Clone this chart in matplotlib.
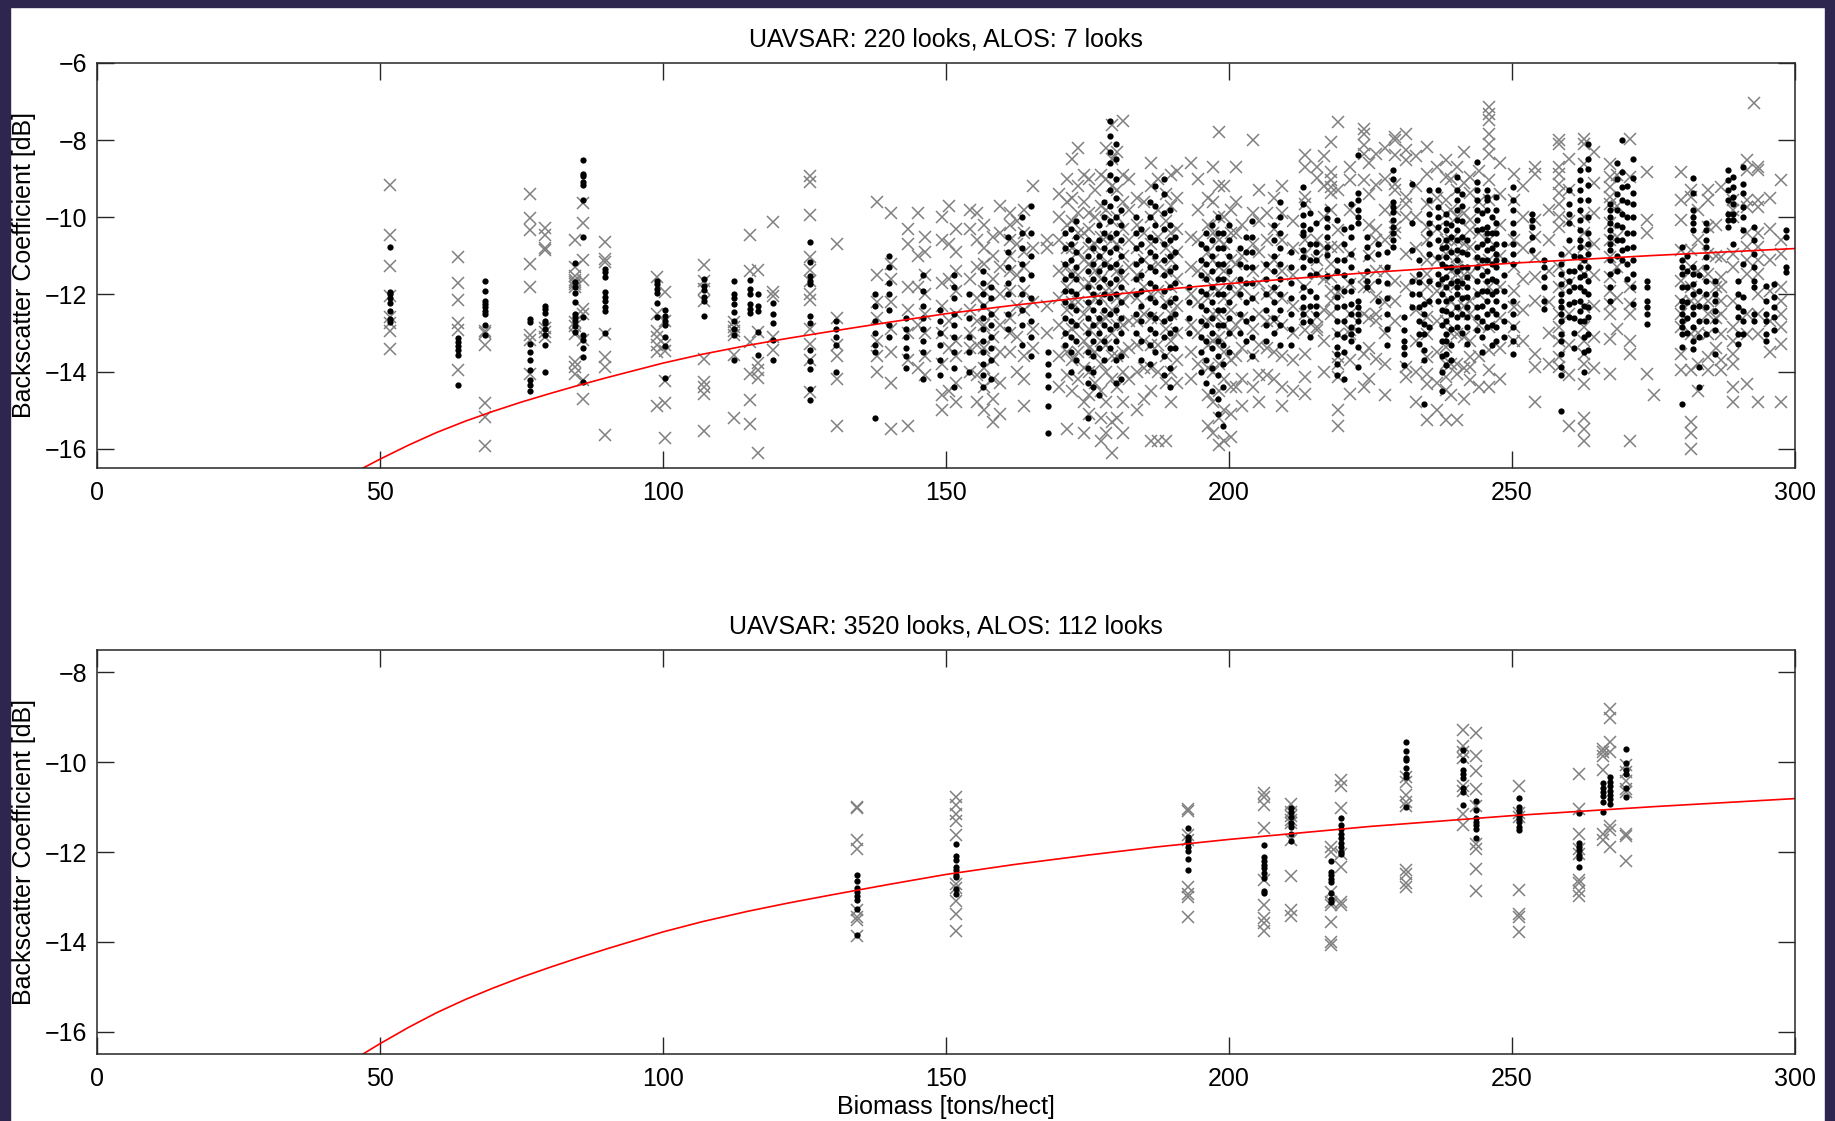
import matplotlib
matplotlib.use("Agg")
import matplotlib.pyplot as plt
from matplotlib.patches import Rectangle

plt.rcParams['font.family'] = ['Liberation Sans', 'DejaVu Sans']
plt.rcParams['font.size'] = 18

# red fit curve (biomass, dB)
fit_x = [47, 50, 55, 60, 65, 70, 75, 80, 85, 90, 95, 100, 107, 115, 122, 130, 140,
         150, 162, 175, 187, 200, 225, 250, 275, 300]
fit_y = [-16.50, -16.27, -15.91, -15.58, -15.29, -15.03, -14.79, -14.57, -14.36,
         -14.16, -13.97, -13.78, -13.55, -13.32, -13.14, -12.95, -12.72, -12.50,
         -12.28, -12.07, -11.89, -11.72, -11.43, -11.19, -10.99, -10.81]

# top panel: UAVSAR 220 looks (dots), one list of dB values per stand
top_dot_x = [51.8, 63.7, 68.6, 76.5, 79.2, 84.5, 85.8, 89.8, 98.9, 100.4,
             107.2, 112.5, 115.3, 116.7, 119.5, 126.0,
             130.5, 137.5, 140.0, 143.0, 146.0, 149.0, 151.5, 154.0, 156.5, 158.0,
             161.0, 163.5, 165.0, 168.0, 171.0, 173.0, 175.0, 177.0, 179.0, 181.0,
             183.5, 186.0, 188.5, 190.5, 193.0, 196.0, 198.0, 200.0, 202.0, 204.0,
             206.5, 209.0, 211.0,
             213.1, 215.4, 217.3, 219.0, 221.5, 222.8, 224.3, 226.3, 229.0, 230.9,
             232.4, 233.6, 234.5, 235.4, 236.9, 238.4, 240.2, 242.1, 243.9, 245.5,
             247.2, 250.2, 253.5, 255.6, 258.6, 260.1, 262.0, 263.5, 267.4, 269.5,
             271.3, 273.9, 280.1, 281.9, 283.1, 284.3, 285.8, 288.2, 289.1, 290.0,
             290.8, 292.8, 294.8, 296.3, 298.4,
             172.0, 176.0, 178.0, 180.0, 184.5, 187.0, 189.5, 195.0, 197.0, 199.0,
             203.0, 208.0, 214.3, 220.3, 228.0, 237.6, 239.3, 241.2, 244.7, 246.4,
             248.5, 261.0, 262.8, 268.5, 270.4, 281.0, 283.0]
top_dot_y = [
    [-10.77, -11.94, -12.00, -12.09, -12.23, -12.43, -12.63, -12.72],
    [-13.13, -13.24, -13.35, -13.45, -13.58, -14.34],
    [-11.64, -11.92, -12.18, -12.26, -12.33, -12.43, -12.50, -12.78, -13.04],
    [-12.63, -12.72, -13.28, -13.50, -13.71, -13.97, -14.23, -14.36, -14.51],
    [-12.31, -12.37, -12.48, -12.68, -12.74, -12.89, -13.06, -13.30, -14.02],
    [-11.19, -11.68, -11.81, -11.97, -12.20, -12.50, -12.59, -12.68, -12.81, -12.98],
    [-8.52, -8.87, -8.94, -9.08, -9.17, -9.56, -10.51, -12.59, -13.06, -13.19,
     -13.39, -13.63, -14.28],
    [-11.33, -11.42, -11.55, -11.94, -12.07, -12.16, -12.33, -12.42, -13.00],
    [-11.64, -11.72, -11.85, -11.97, -12.23, -12.59],
    [-12.40, -12.55, -12.68, -12.78, -13.11, -13.35, -14.16],
    [-11.59, -11.79, -11.88, -12.07, -12.16, -12.57],
    [-11.64, -12.00, -12.09, -12.24, -12.46, -12.68, -12.89, -13.04, -13.71],
    [-11.62, -11.85, -12.00, -12.24, -12.37, -12.48],
    [-11.98, -12.29, -12.42, -12.98, -13.58],
    [-12.23, -12.50, -12.74, -13.18, -13.71],
    [-10.64, -11.16, -11.53, -11.64, -11.72, -12.57, -12.74, -13.44, -13.73,
     -13.93, -14.45, -14.74],
    [-12.7, -12.9, -13.1, -13.3, -14.0],
    [-12.0, -12.3, -12.7, -13.0, -13.3, -13.5, -15.2],
    [-11.0, -11.3, -11.7, -12.0, -12.4, -12.8, -13.1],
    [-12.6, -12.9, -13.1, -13.4, -13.6, -13.9],
    [-11.5, -11.9, -12.3, -12.6, -12.9, -13.2, -13.5, -14.2],
    [-12.4, -12.7, -13.0, -13.3, -13.7, -14.1],
    [-11.5, -11.8, -12.1, -12.5, -12.8, -13.1, -13.5, -13.9, -14.4],
    [-12.0, -12.6, -13.1, -13.5, -14.0],
    [-11.4, -11.7, -12.0, -12.3, -12.6, -12.9, -13.2, -13.5, -13.8, -14.1, -14.4],
    [-11.8, -12.1, -12.5, -12.8, -13.1, -13.4, -13.7, -14.2],
    [-10.5, -10.9, -11.3, -11.7, -12.0, -12.5, -12.9],
    [-10.0, -10.4, -10.8, -11.2, -11.6, -12.0, -12.4, -12.8, -13.3],
    [-9.7, -10.4, -11.0, -11.5, -12.1, -12.7, -13.1, -13.6],
    [-13.5, -13.8, -14.1, -14.4, -14.9, -15.6],
    [-10.4, -10.8, -11.2, -11.6, -11.9, -12.2, -12.6, -13.0, -13.3],
    [-10.1, -10.5, -10.9, -11.3, -11.6, -12.0, -12.4, -12.8, -13.2, -13.7],
    [-10.6, -11.0, -11.4, -11.8, -12.2, -12.6, -13.0, -13.5, -13.9, -14.3, -15.2],
    [-10.2, -10.6, -11.0, -11.4, -11.8, -12.2, -12.6, -13.0, -13.4, -14.6],
    [-7.5, -7.9, -8.3, -8.6, -8.9, -9.3, -9.7, -10.1, -10.5, -10.9, -11.3, -11.7,
     -12.1, -12.5, -12.9, -13.4],
    [-9.8, -10.2, -10.6, -11.0, -11.4, -11.8, -12.2, -12.6, -13.0, -13.6, -14.2],
    [-10.0, -10.4, -10.8, -11.2, -11.6, -12.0, -12.5, -13.0],
    [-9.6, -10.0, -10.5, -10.9, -11.3, -11.7, -12.1, -12.5, -12.9, -13.3, -13.8],
    [-9.0, -9.4, -9.9, -10.3, -10.7, -11.1, -11.5, -11.9, -12.3, -12.7, -13.1,
     -13.6, -14.1],
    [-10.5, -10.9, -11.3, -11.7, -12.1, -12.5, -12.9, -13.4],
    [-11.8, -12.2, -12.6, -13.0],
    [-10.4, -10.8, -11.2, -11.6, -12.0, -12.4, -12.8, -13.2, -13.7, -14.3],
    [-10.0, -10.4, -10.8, -11.2, -11.6, -12.0, -12.4, -12.8, -13.2, -13.6, -14.1,
     -14.7, -15.1],
    [-10.2, -10.6, -11.0, -11.4, -11.8, -12.2, -12.6, -13.0, -13.5],
    [-10.8, -11.2, -11.6, -12.0, -12.5, -13.0],
    [-10.1, -10.5, -10.9, -11.3, -11.7, -12.1, -12.6, -13.1, -13.6],
    [-11.2, -11.6, -12.0, -12.4, -12.8, -13.2],
    [-9.6, -10.0, -10.4, -10.8, -11.2, -11.6, -12.0, -12.4, -12.8, -13.3],
    [-10.9, -11.3, -11.7, -12.1, -12.5, -12.9, -13.3],
    [-9.21, -9.65, -9.95, -10.21, -10.38, -10.47, -10.86, -11.03, -11.29, -11.81,
     -12.07, -12.33, -12.50, -12.72],
    [-10.16, -10.68, -10.90, -11.12, -11.46, -12.07, -12.29, -12.50],
    [-9.78, -10.03, -10.25, -10.51, -10.77, -10.99, -11.51],
    [-10.08, -11.12, -11.38, -11.81, -12.07, -12.33, -12.68, -13.02, -13.37,
     -13.54, -13.80, -14.10],
    [-9.65, -10.25, -10.51, -10.94, -11.29, -11.64, -11.90, -12.24, -12.50,
     -12.85, -13.02, -13.20],
    [-8.39, -9.38, -9.56, -9.82, -9.99, -10.16, -12.16, -12.33, -12.50, -12.68,
     -12.93, -13.37, -13.89],
    [-10.51, -10.77, -11.03, -11.38, -11.64, -11.81],
    [-10.68, -10.94, -11.64, -12.16],
    [-8.78, -9.00, -9.60, -9.73, -9.86, -10.08, -10.25, -10.42, -10.60, -10.77],
    [-12.59, -12.93, -13.20, -13.37, -13.54, -13.84],
    [-9.13, -10.16, -10.86, -11.64, -11.98, -12.33],
    [-11.12, -11.46, -11.68, -11.98, -12.33, -12.68, -13.02, -13.28],
    [-12.24, -12.50, -12.76, -13.02, -13.45, -13.71, -14.83],
    [-9.30, -9.56, -9.91, -10.16, -10.42, -10.68, -10.94, -11.64, -12.16, -12.85],
    [-9.30, -9.73, -9.99, -10.25, -10.60, -11.03, -11.46, -11.72, -12.16],
    [-9.91, -10.16, -10.34, -10.60, -10.77, -11.03, -11.29, -11.55, -11.81,
     -12.16, -12.42, -12.68, -13.02, -13.20, -13.54, -13.84],
    [-8.95, -9.30, -9.56, -9.82, -10.08, -10.34, -10.60, -10.86, -11.12, -11.38,
     -11.64, -11.81, -11.98, -12.33, -12.59, -12.85],
    [-10.60, -10.94, -11.29, -11.55, -11.81, -12.07, -12.33, -12.59, -12.85, -13.28],
    [-8.56, -9.08, -9.30, -9.56, -9.82, -10.08, -10.34, -10.77, -11.03, -11.29,
     -11.64, -11.98, -12.33, -12.59, -12.93],
    [-9.30, -9.47, -9.56, -9.82, -10.25, -10.42, -10.60, -10.86, -11.12, -11.38,
     -11.64, -11.90, -12.16, -12.50, -12.85],
    [-9.47, -9.82, -10.16, -10.42, -10.68, -10.94, -11.12, -11.29, -11.64, -11.90,
     -12.16, -12.50, -12.85, -13.20],
    [-9.21, -9.56, -9.82, -10.16, -10.42, -10.68, -10.94, -11.20, -12.16, -12.50,
     -12.85, -13.20, -13.54],
    [-9.91, -10.08, -10.25, -10.51, -10.86],
    [-11.12, -11.29, -11.55, -11.81, -12.16, -12.37],
    [-10.94, -11.20, -11.46, -11.72, -11.98, -12.16, -12.33, -12.50, -12.68,
     -13.02, -13.20, -13.54, -13.89, -14.10, -15.03],
    [-9.30, -9.65, -9.91, -10.16, -10.60, -11.38, -11.64, -11.90, -12.24, -12.59],
    [-8.78, -9.04, -9.30, -9.56, -9.82, -10.08, -10.34, -10.60, -10.77, -11.03,
     -11.29, -11.55, -11.81, -12.16, -12.42, -12.68],
    [-8.09, -8.48, -8.74, -9.17, -9.56, -9.99, -10.42, -10.68, -10.94, -11.29,
     -11.64, -11.98, -12.33, -12.59, -13.02, -13.45],
    [-9.65, -9.82, -9.99, -10.16, -10.34, -10.51, -10.68, -10.86, -11.12, -11.46,
     -11.81, -12.16],
    [-8.00, -8.82, -9.21, -9.56, -9.91, -10.25, -10.60, -10.86, -11.12],
    [-8.48, -8.99, -9.38, -9.65, -9.99, -10.42, -10.77, -11.12, -11.46, -11.81,
     -12.24],
    [-11.64, -11.81, -12.16, -12.33, -12.50, -12.76],
    [-10.77, -11.12, -11.29, -11.46, -11.81, -12.16, -12.33, -12.50, -12.68,
     -12.85, -13.02, -13.37, -14.85],
    [-8.99, -9.38, -9.82, -9.99, -10.16, -10.34, -11.29, -11.46, -11.72, -11.98,
     -12.33, -12.50, -12.85, -13.20, -13.41],
    [-13.89, -14.41],
    [-10.16, -10.34, -10.60, -10.77, -11.03, -11.29, -11.64, -11.98, -12.33,
     -12.68, -13.02],
    [-11.64, -11.98, -12.16, -12.42, -12.68, -12.93, -13.54],
    [-8.78, -9.04, -9.30, -9.56, -9.91, -10.08, -10.25],
    [-8.95, -9.21, -9.47, -9.65, -9.91, -10.08, -10.68],
    [-11.64, -11.98, -12.33, -12.59, -13.02, -13.28],
    [-8.69, -9.13, -9.38, -9.73, -9.99, -10.34, -11.20, -12.07, -12.42, -12.68,
     -13.02],
    [-10.25, -10.60, -10.94, -11.29, -11.64, -11.81, -12.50, -12.68],
    [-11.77, -12.16, -12.50, -12.68, -13.02, -13.20],
    [-11.72, -12.07, -12.33, -12.59, -12.93],
    [-10.34, -10.51, -11.29, -11.42],
    # denser in-between columns
    [-10.3, -10.7, -11.1, -11.5, -11.9, -12.3, -12.7, -13.1, -13.5, -14.0],
    [-10.8, -11.2, -11.6, -12.0, -12.4, -12.8, -13.2, -13.6, -14.0, -14.4],
    [-9.6, -10.0, -10.4, -10.8, -11.2, -11.6, -12.0, -12.4, -12.8, -13.2, -13.7],
    [-8.1, -8.5, -9.0, -9.5, -10.0, -10.4, -10.8, -11.2, -11.6, -12.0, -12.4,
     -12.8, -13.2, -13.7, -14.3],
    [-10.3, -10.7, -11.1, -11.5, -11.9, -12.3, -12.7, -13.2, -13.7],
    [-9.2, -9.7, -10.2, -10.6, -11.0, -11.4, -11.8, -12.2, -12.6, -13.0, -13.5],
    [-9.8, -10.2, -10.6, -11.0, -11.4, -11.8, -12.2, -12.6, -13.0, -13.4, -13.9,
     -14.4],
    [-10.7, -11.1, -11.5, -11.9, -12.3, -12.7, -13.1, -13.5, -14.0],
    [-10.2, -10.6, -11.0, -11.4, -11.8, -12.2, -12.6, -13.0, -13.4, -13.9, -14.5],
    [-10.4, -10.8, -11.2, -11.6, -12.0, -12.4, -12.8, -13.3, -13.8, -14.4, -15.4],
    [-10.5, -10.9, -11.3, -11.7, -12.2, -12.7, -13.2],
    [-10.2, -10.6, -11.0, -11.4, -11.8, -12.2, -12.6, -13.0],
    [-9.9, -10.3, -10.7, -11.1, -11.5, -11.9, -12.3, -12.7, -13.1],
    [-10.3, -10.7, -11.1, -11.5, -11.9, -12.3, -12.7, -13.1, -13.5, -14.2],
    [-10.9, -11.3, -11.7, -12.1, -12.5, -12.9, -13.3],
    [-10.8, -11.2, -11.6, -12.0, -12.4, -12.8, -13.2, -13.6, -14.0, -14.5],
    [-10.2, -10.5, -10.9, -11.3, -11.7, -12.1, -12.5, -12.9, -13.3, -13.7],
    [-9.4, -9.7, -10.1, -10.5, -10.9, -11.3, -11.7, -12.1, -12.5, -13.0],
    [-9.9, -10.3, -10.7, -11.1, -11.5, -11.9, -12.3, -12.7, -13.1, -13.5],
    [-10.0, -10.4, -10.8, -11.2, -11.6, -12.0, -12.4, -12.8, -13.3],
    [-10.7, -11.1, -11.5, -11.9, -12.3, -12.7, -13.1],
    [-11.0, -11.4, -11.8, -12.2, -12.6, -13.0, -13.4],
    [-11.1, -11.5, -11.9, -12.3, -12.7, -13.1, -13.5, -14.0],
    [-8.6, -9.0, -9.4, -9.8, -10.2, -10.6, -11.0, -11.4],
    [-9.2, -9.6, -10.0, -10.4, -10.8, -11.2, -11.6],
    [-11.0, -11.4, -11.8, -12.2, -12.6, -13.0],
    [-11.5, -11.9, -12.3, -12.7, -13.1],
]

# top panel: ALOS 7 looks (crosses)
top_cross_x = [51.8, 63.7, 68.6, 76.5, 79.2, 84.5, 85.8, 89.8, 98.9, 100.4,
               107.2, 112.5, 115.3, 116.7, 119.5, 126.0,
               130.8, 137.8, 140.3, 143.3, 146.3, 149.3, 151.8, 154.3, 156.8, 158.3,
               161.3, 163.8, 165.3, 167.8, 171.3, 173.3, 175.3, 177.3, 179.3, 181.3,
               183.8, 186.3, 188.8, 190.8, 193.3, 196.3, 198.3, 200.3, 202.3, 204.3,
               206.8, 209.3, 211.3,
               213.5, 215.6, 218.0, 219.3, 221.4, 223.8, 226.0, 229.3, 231.3, 235.0,
               238.3, 240.3, 242.6, 246.0, 250.4, 254.0, 258.3, 262.7, 267.3, 270.9,
               273.9, 275.0, 279.9, 281.6, 284.6, 287.0, 289.0, 291.5, 292.8, 293.5,
               297.5,
               145.0, 150.5, 155.5, 159.5, 162.5, 170.0, 172.2, 174.3, 176.3, 178.3,
               180.3, 182.3, 185.0, 187.5, 189.8, 194.5, 197.2, 199.2, 201.3, 205.3,
               208.0, 216.8, 224.8, 227.5, 233.0, 236.8, 239.3, 241.5, 244.2, 247.8,
               252.0, 256.5, 260.0, 264.5, 268.5, 282.8, 286.0, 295.5]
top_cross_y = [
    [-9.17, -10.47, -11.27, -12.03, -12.59, -12.75, -12.95, -13.41],
    [-11.03, -11.71, -12.14, -12.74, -12.92, -13.96],
    [-12.94, -13.00, -13.30, -14.82, -15.17, -15.92],
    [-9.40, -10.01, -10.34, -11.20, -11.81, -13.06, -13.19, -14.06],
    [-10.29, -10.47, -10.79, -10.84, -12.87, -12.98, -13.11],
    [-10.60, -11.29, -11.51, -11.62, -11.68, -11.74, -11.81, -12.72, -12.81,
     -13.02, -13.76, -13.89, -14.06],
    [-9.64, -10.15, -11.10, -11.62, -12.37, -12.50, -13.19, -14.23, -14.71],
    [-10.64, -11.07, -11.16, -13.02, -13.63, -13.89, -15.64],
    [-11.55, -12.50, -12.94, -13.11, -13.30, -13.50, -14.88],
    [-11.94, -12.68, -13.32, -13.47, -14.25, -14.82, -15.72],
    [-11.25, -11.64, -11.85, -12.17, -13.67, -14.28, -14.39, -14.58, -15.55],
    [-12.72, -12.85, -12.95, -13.06, -13.58, -15.20],
    [-10.47, -11.39, -13.24, -14.06, -14.74, -15.36],
    [-11.36, -12.98, -13.78, -13.97, -14.16, -16.12],
    [-10.12, -11.94, -12.03, -13.11, -13.45],
    [-8.94, -9.08, -9.95, -11.03, -11.36, -11.64, -12.00, -12.14, -12.89, -13.28,
     -13.71, -14.54],
    [-10.7, -12.6, -13.3, -13.6, -14.2, -15.4],
    [-9.6, -11.5, -12.2, -12.6, -13.2, -13.6, -14.0],
    [-9.9, -11.2, -11.6, -12.2, -12.9, -13.5, -14.3, -15.5],
    [-10.3, -10.7, -11.8, -12.4, -13.0, -13.7, -15.4],
    [-10.5, -10.9, -11.5, -12.0, -12.5, -13.0, -13.6, -14.1],
    [-10.0, -10.6, -11.7, -12.3, -13.0, -13.8, -14.6, -15.0],
    [-10.3, -10.9, -11.4, -11.9, -12.5, -13.2, -13.6, -14.3, -14.8],
    [-9.8, -10.3, -11.6, -12.4, -13.0, -13.4, -14.0],
    [-10.2, -10.8, -11.2, -11.9, -12.3, -12.8, -13.4, -13.9, -14.4, -15.0],
    [-10.5, -11.0, -11.6, -12.5, -13.1, -13.7, -14.2, -14.7, -15.3],
    [-9.9, -10.2, -10.6, -11.0, -11.4, -11.9, -12.6, -13.0, -13.5],
    [-9.8, -10.4, -10.9, -11.3, -11.9, -12.4, -13.6, -14.2, -14.9],
    [-9.2, -10.8, -12.2, -12.9, -13.4],
    [-10.6, -10.8, -12.3, -13.0],
    [-9.0, -9.6, -10.2, -10.8, -11.3, -11.8, -12.4, -13.0, -13.5, -14.1, -15.5],
    [-8.2, -9.2, -9.9, -10.4, -10.9, -11.5, -12.2, -12.8, -13.5, -14.2],
    [-9.0, -9.9, -10.3, -10.8, -11.2, -11.7, -12.3, -12.9, -13.4, -14.0, -14.6,
     -15.1],
    [-8.9, -9.7, -10.5, -11.0, -11.6, -12.1, -12.7, -13.2, -13.8, -14.5, -15.2,
     -15.8],
    [-7.6, -8.5, -9.2, -10.1, -10.6, -11.3, -11.9, -12.4, -13.0, -13.6, -14.2,
     -15.3, -16.1],
    [-7.5, -8.9, -9.6, -10.3, -11.0, -11.6, -12.2, -12.8, -13.5, -14.0, -14.8,
     -15.6],
    [-9.5, -10.2, -10.8, -11.5, -12.1, -12.7, -13.3, -14.0, -15.0],
    [-8.6, -9.2, -10.0, -10.7, -11.3, -12.0, -12.6, -13.3, -13.9, -14.5, -15.8],
    [-9.4, -10.1, -10.8, -11.4, -12.2, -12.9, -13.6, -14.3, -15.8],
    [-8.8, -9.5, -10.3, -10.9, -11.6, -12.3, -13.0, -13.7, -14.3],
    [-8.6, -10.5, -11.3, -12.0, -12.8, -13.5, -14.2],
    [-9.5, -10.2, -10.9, -11.5, -12.1, -12.7, -13.3, -13.9, -14.6, -15.4],
    [-7.8, -9.2, -10.0, -10.6, -11.3, -11.9, -12.5, -13.1, -13.8, -14.5, -15.2,
     -15.9],
    [-9.8, -10.4, -11.1, -11.7, -12.4, -13.0, -13.7, -14.4, -15.1, -15.7],
    [-10.2, -11.0, -11.8, -12.6, -13.4, -14.2, -14.9],
    [-8.0, -9.9, -10.7, -11.4, -12.1, -12.9, -13.6, -14.4],
    [-9.9, -10.6, -11.3, -12.0, -12.7, -13.4, -14.1],
    [-9.2, -9.9, -10.6, -11.4, -12.1, -12.8, -13.6, -14.4, -14.9],
    [-10.1, -10.8, -11.5, -12.3, -13.0, -13.7, -14.5],
    [-8.39, -8.69, -9.47, -9.65, -10.60, -10.94, -11.81, -12.50, -12.93, -13.54,
     -14.15, -14.58],
    [-8.69, -8.99, -10.60, -11.12, -11.46, -12.59, -12.85, -12.93],
    [-8.04, -8.82, -9.04, -9.21, -9.38, -9.82, -10.77, -11.20, -11.55, -11.90,
     -12.16, -12.50],
    [-7.52, -9.30, -10.34, -10.77, -11.94, -13.02, -13.63, -13.80, -14.15, -15.0,
     -15.4],
    [-8.69, -9.04, -9.82, -10.94, -11.72, -12.50, -12.93, -13.02, -13.71, -14.58],
    [-7.70, -7.83, -8.13, -8.35, -9.04, -11.55, -11.81, -12.50, -13.54, -14.41],
    [-8.35, -9.17, -10.34, -10.60, -11.38, -12.07, -12.50, -12.68, -13.67],
    [-7.91, -8.00, -8.39, -9.13, -9.30, -9.82, -10.25, -10.42, -11.64, -12.16,
     -12.68],
    [-7.83, -8.26, -8.52, -9.47, -9.65, -9.99, -10.94, -11.81, -13.89, -14.15],
    [-8.17, -8.87, -9.65, -10.25, -10.60, -11.12, -11.46, -11.81, -12.16, -12.59,
     -13.02, -13.63, -14.06, -14.32, -15.25],
    [-8.52, -8.95, -9.56, -9.91, -10.60, -10.94, -11.81, -12.68, -13.37, -13.80,
     -14.15, -14.49, -15.25],
    [-8.69, -9.30, -9.99, -10.60, -11.03, -11.29, -11.46, -11.72, -12.33, -13.02,
     -13.80, -14.06, -15.25],
    [-8.95, -9.38, -10.08, -10.34, -10.77, -11.46, -12.16, -12.50, -13.20, -13.63,
     -13.89, -14.23],
    [-7.13, -7.31, -7.48, -7.83, -8.09, -8.35, -9.04, -9.56, -10.60, -11.12,
     -11.81, -12.85, -13.45, -13.97, -14.41],
    [-8.87, -9.56, -10.60, -11.29, -11.90, -12.33, -12.85, -13.20],
    [-8.69, -8.87, -10.08, -10.51, -11.03, -11.55, -12.16, -13.54, -13.89, -14.80],
    [-8.00, -8.09, -8.69, -8.87, -9.13, -9.38, -9.65, -9.99, -10.25, -11.29,
     -11.81, -12.50, -12.85, -13.20, -13.63, -13.89],
    [-7.96, -8.09, -8.61, -9.99, -10.42, -10.77, -11.12, -11.46, -12.33, -12.85,
     -13.20, -13.54, -13.80, -14.32, -15.2, -15.5, -15.8],
    [-8.61, -8.95, -9.21, -9.47, -9.65, -10.16, -10.60, -11.03, -11.55, -11.90,
     -12.24, -12.50, -13.15, -14.06],
    [-7.96, -8.95, -11.81, -12.24, -12.50, -13.20, -13.54, -15.8],
    [-8.82, -10.08, -10.42, -14.06],
    [-14.6],
    [-8.82, -9.56, -10.08, -10.86, -11.64, -12.16, -12.50, -12.85, -13.54, -13.97],
    [-9.30, -9.47, -10.86, -11.29, -11.81, -12.16, -13.02, -13.97, -15.3, -15.6,
     -16.0],
    [-9.30, -9.56, -10.25, -10.94, -11.46, -12.16, -12.50, -13.02, -13.63, -13.97],
    [-9.21, -11.03, -11.55, -11.81, -12.16, -12.50, -13.02, -13.71, -13.97],
    [-9.56, -9.82, -9.99, -10.94, -11.29, -12.16, -12.85, -13.20, -13.54, -13.80,
     -14.41, -14.8],
    [-8.52, -8.78, -9.56, -9.73, -10.42, -10.77, -11.12, -11.46, -12.50, -13.02,
     -14.32],
    [-7.03],
    [-8.69, -8.78, -9.56, -9.73, -10.42, -10.77, -11.12, -11.46, -11.98, -12.50,
     -13.02, -14.8],
    [-9.04, -10.60, -10.94, -11.81, -12.16, -12.50, -12.85, -13.28, -14.8],
    # crosses spread between the stands
    [-9.9, -11.0, -11.8, -12.8, -13.9],
    [-9.7, -10.7, -11.6, -12.7, -13.4, -14.5],
    [-9.9, -10.6, -11.3, -12.1, -12.7, -13.3, -14.1, -14.8],
    [-9.7, -10.4, -11.3, -12.0, -12.8, -13.5, -14.3, -15.1],
    [-10.1, -10.7, -11.5, -12.3, -13.1, -14.0],
    [-9.4, -10.0, -10.6, -11.4, -12.1, -12.8, -13.6, -14.4],
    [-8.5, -9.5, -10.1, -10.8, -11.5, -12.2, -12.9, -13.7, -14.5],
    [-8.9, -9.6, -10.4, -11.1, -11.8, -12.5, -13.2, -13.9, -14.8, -15.6],
    [-9.3, -10.0, -10.7, -11.4, -12.1, -12.8, -13.5, -14.3],
    [-8.2, -9.0, -9.8, -10.5, -11.2, -11.9, -12.6, -13.3, -14.0, -14.8, -15.6],
    [-8.3, -9.3, -10.0, -10.7, -11.4, -12.1, -12.8, -13.6, -14.4, -15.2],
    [-9.0, -9.8, -10.6, -11.3, -12.0, -12.7, -13.4, -14.2],
    [-9.6, -10.4, -11.1, -11.8, -12.5, -13.2, -13.9, -14.7],
    [-9.0, -9.8, -10.5, -11.2, -11.9, -12.6, -13.3, -14.0, -15.8],
    [-8.9, -9.7, -10.4, -11.1, -11.8, -12.5, -13.2, -14.0, -14.8],
    [-9.0, -9.8, -10.6, -11.4, -12.2, -13.0, -13.8],
    [-8.7, -9.6, -10.4, -11.1, -11.8, -12.5, -13.2, -14.0, -14.8, -15.6],
    [-9.2, -10.0, -10.7, -11.4, -12.1, -12.8, -13.5, -14.2, -15.0, -15.8],
    [-8.7, -9.6, -10.4, -11.2, -12.0, -12.8, -13.6, -14.4],
    [-9.3, -10.1, -10.9, -11.7, -12.5, -13.3, -14.1, -14.8],
    [-9.5, -10.3, -11.1, -11.9, -12.7, -13.5, -14.2],
    [-8.4, -9.2, -10.0, -10.8, -11.6, -12.4, -13.2, -14.0],
    [-8.6, -9.4, -10.2, -11.0, -11.8, -12.6, -13.4, -14.2],
    [-8.2, -9.0, -9.8, -10.6, -11.4, -12.2, -13.0, -13.8, -14.6],
    [-8.4, -9.2, -10.0, -10.8, -11.6, -12.4, -13.2, -14.0, -14.8],
    [-8.7, -9.5, -10.3, -11.1, -11.9, -12.7, -13.5, -14.3, -15.0],
    [-9.0, -9.8, -10.6, -11.4, -12.2, -13.0, -13.8, -14.6],
    [-8.3, -9.1, -9.9, -10.7, -11.5, -12.3, -13.1, -13.9, -14.7],
    [-8.8, -9.6, -10.4, -11.2, -12.0, -12.8, -13.6, -14.4],
    [-8.6, -9.4, -10.2, -11.0, -11.8, -12.6, -13.4, -14.2],
    [-9.2, -10.0, -10.8, -11.6, -12.4, -13.2],
    [-9.8, -10.6, -11.4, -12.2, -13.0, -13.8],
    [-8.5, -9.3, -10.1, -10.9, -11.7, -12.5, -13.3, -14.1, -15.4],
    [-8.3, -9.1, -9.9, -10.7, -11.5, -12.3, -13.1, -13.9],
    [-8.9, -9.7, -10.5, -11.3, -12.1, -12.9],
    [-9.8, -10.6, -11.4, -12.2, -13.0, -13.8, -14.5],
    [-10.2, -11.0, -11.8, -12.6, -13.4],
    [-9.5, -10.3, -11.1, -11.9, -12.7, -13.5],
]

# bottom panel: UAVSAR 3520 looks (dots), ALOS 112 looks (crosses)
bot_x = [134.2, 151.7, 192.7, 206.1, 210.9, 218.1, 219.7, 231.3, 241.4, 243.6,
         251.3, 261.8, 266.0, 267.4, 270.1]
bot_dot_y = [
    [-12.51, -12.65, -12.80, -12.90, -12.97, -13.06, -13.28, -13.84],
    [-11.82, -12.10, -12.17, -12.34, -12.40, -12.51, -12.56, -12.82, -12.93],
    [-11.47, -11.67, -11.74, -11.80, -11.89, -11.98, -12.15, -12.39],
    [-11.85, -12.12, -12.19, -12.30, -12.36, -12.47, -12.59, -12.86, -12.91],
    [-11.02, -11.12, -11.21, -11.36, -11.45, -11.61, -11.76],
    [-12.19, -12.45, -12.52, -12.60, -12.67, -12.92, -13.04, -13.12],
    [-11.24, -11.39, -11.49, -11.60, -11.69, -11.79, -11.88, -11.99, -12.04],
    [-9.54, -9.75, -9.90, -9.96, -10.12, -10.26, -10.32, -11.00],
    [-9.72, -9.96, -10.18, -10.26, -10.35, -10.57, -10.67, -10.96],
    [-10.86, -11.07, -11.24, -11.33, -11.39, -11.49, -11.69],
    [-10.79, -11.00, -11.09, -11.19, -11.26, -11.33, -11.45, -11.52],
    [-11.13, -11.80, -11.88, -11.95, -12.06, -12.13, -12.34],
    [-10.47, -10.57, -10.67, -10.76, -10.89, -11.12],
    [-10.32, -10.44, -10.54, -10.64, -10.74, -10.83, -10.94],
    [-9.71, -10.01, -10.18, -10.26, -10.57, -10.78],
]
bot_cross_y = [
    [-11.00, -11.02, -11.74, -11.93, -13.30, -13.45, -13.51, -13.88],
    [-10.78, -10.95, -11.15, -11.32, -11.63, -12.71, -12.80, -13.09, -13.38, -13.76],
    [-11.05, -11.09, -11.63, -11.74, -12.78, -12.93, -13.00, -13.45],
    [-10.68, -10.78, -10.96, -11.47, -12.63, -13.17, -13.46, -13.58, -13.75],
    [-10.93, -11.12, -11.19, -11.29, -11.36, -11.73, -12.53, -13.29, -13.42],
    [-11.89, -12.00, -12.89, -13.12, -13.17, -13.56, -14.01, -14.08],
    [-10.39, -10.54, -11.02, -12.04, -12.34, -13.12, -13.17],
    [-10.33, -10.44, -10.74, -10.89, -10.98, -12.41, -12.48, -12.70, -12.78],
    [-9.29, -9.63, -9.77, -9.90, -10.54, -10.63, -11.15, -11.39],
    [-9.35, -9.87, -10.20, -10.60, -10.98, -11.83, -11.93, -12.37, -12.87],
    [-10.54, -11.13, -11.22, -12.84, -13.38, -13.44, -13.78],
    [-10.26, -11.04, -11.60, -11.93, -12.04, -12.63, -12.69, -12.86, -12.99],
    [-9.70, -9.77, -9.87, -10.18, -11.61, -11.73],
    [-8.81, -9.02, -9.55, -9.77, -11.41, -11.51, -11.88],
    [-10.07, -10.22, -10.41, -10.59, -10.67, -11.60, -11.65, -12.19],
]

W, H = 1835, 1121
fig = plt.figure(figsize=(W / 100, H / 100), dpi=100, facecolor='white')

# dark window frame around the figure
frame = '#2f2650'
fig.patches.append(Rectangle((0, 1 - 7 / H), 1, 7 / H, transform=fig.transFigure,
                             color=frame, zorder=-1))
fig.patches.append(Rectangle((0, 0), 10 / W, 1, transform=fig.transFigure,
                             color=frame, zorder=-1))
fig.patches.append(Rectangle((1825 / W, 0), 10 / W, 1, transform=fig.transFigure,
                             color=frame, zorder=-1))

ax1 = fig.add_axes([97 / W, 1 - 468 / H, 1698 / W, 405 / H])
ax2 = fig.add_axes([97 / W, 1 - 1054 / H, 1698 / W, 404 / H])


def scatter_groups(ax, xs, groups, **kw):
    for x, ys in zip(xs, groups):
        ax.plot([x] * len(ys), ys, linestyle='none', **kw)


cross_kw = dict(marker='x', color='#808080', markersize=9, markeredgewidth=1.1)
dot_kw = dict(marker='o', color='black', markersize=4.5, markeredgewidth=0)

scatter_groups(ax1, top_cross_x, top_cross_y, **cross_kw)
scatter_groups(ax1, top_dot_x, top_dot_y, **dot_kw)
scatter_groups(ax2, bot_x, bot_cross_y, **cross_kw)
scatter_groups(ax2, bot_x, bot_dot_y, **dot_kw)

for ax in (ax1, ax2):
    ax.plot(fit_x, fit_y, color='red', linewidth=1.2)
    ax.set_xlim(0, 300)
    ax.set_xticks([0, 50, 100, 150, 200, 250, 300])
    ax.tick_params(direction='in', top=True, right=True, length=12, width=1,
                   color='#262626', pad=7, labelsize=18)
    ax.tick_params(axis='x', pad=9)
    for s in ax.spines.values():
        s.set_linewidth(1.1)
        s.set_color('#262626')
    ax.set_ylabel('Backscatter Coefficient [dB]', fontsize=18, labelpad=6)

ax1.set_ylim(-16.5, -6)
ax1.set_yticks([-16, -14, -12, -10, -8, -6])
ax1.set_title('UAVSAR: 220 looks, ALOS: 7 looks', fontsize=18, pad=12)

ax2.set_ylim(-16.5, -7.5)
ax2.set_yticks([-16, -14, -12, -10, -8])
ax2.set_title('UAVSAR: 3520 looks, ALOS: 112 looks', fontsize=18, pad=12)
ax2.set_xlabel('Biomass [tons/hect]', fontsize=18, labelpad=3)

fig.savefig('out.png', dpi=100, facecolor='white')
